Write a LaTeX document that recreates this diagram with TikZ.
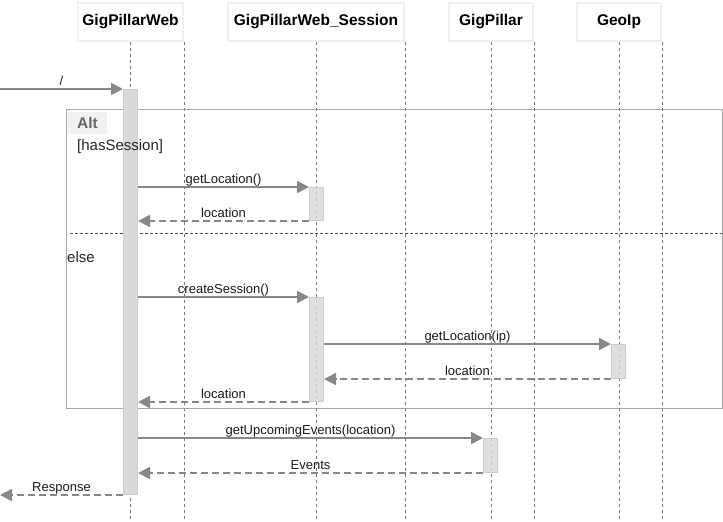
\documentclass[tikz,border=0pt]{standalone}
\usepackage{fontspec}
\setmainfont{Liberation Sans}
\usetikzlibrary{arrows.meta,positioning}

\begin{document}
\begin{tikzpicture}[x=1pt, y=-1pt,
		head/.style={draw=black!6, line width=2pt, minimum height=38pt, inner sep=0pt, font=\fontsize{15.5}{18}\selectfont\bfseries},
		lifeline/.style={black!55, line width=0.8pt, dash pattern=on 3pt off 3pt},
		actbar/.style={fill=black!15, fill opacity=0.85, draw=black!20, line width=1pt, minimum width=14pt, inner sep=0pt},
		msg/.style={black!47, line width=1.8pt, -{Triangle[length=12pt,width=12pt]}},
		reply/.style={msg, dash pattern=on 7pt off 4pt},
		lbl/.style={font=\fontsize{13}{15}\selectfont, anchor=base, yshift=3.5pt, inner sep=0pt, text=black!90},
		note/.style={font=\fontsize{15}{18}\selectfont, anchor=west, inner sep=0pt, text=black!85}]
			%%%%% START %%%%%
			
			\useasboundingbox (0,0) rectangle (723,522);
			\coordinate (bottom) at (0,522);
			
			\node[head, minimum width=105pt] (web) at (130.5,22) {GigPillarWeb};
			\node[head, minimum width=176pt] (sess) at (316,22) {GigPillarWeb\_Session};
			\node[head, minimum width=84pt] (pillar) at (491,22) {GigPillar};
			\node[head, minimum width=84pt] (geo) at (619,22) {GeoIp};
			
			\foreach \n in {web,sess,pillar,geo}{
				\draw[lifeline] (\n.south) -- (\n.south |- bottom);
				\draw[lifeline] (\n.south east) -- (\n.south east |- bottom);
			}
			
			\draw[black!35, line width=1pt] (66,109) rectangle (722,408);
			\node[fill=black!5, minimum width=39pt, minimum height=22pt, inner sep=0pt, font=\fontsize{15.5}{18}\selectfont\bfseries, text=black!60] (alt) at (87.5,123) {Alt};
			\draw[black!70, line width=0.7pt, dash pattern=on 3pt off 2pt] (70,233) -- (722,233);
			
			\node[actbar, fill opacity=1, minimum height=405pt] (webact) at (130.5,292) {};
			\node[actbar, minimum height=33pt] (sact1) at (316.5,204) {};
			\node[actbar, minimum height=104pt] (sact2) at (316.5,349.5) {};
			\node[actbar, minimum height=34pt] (gact) at (618.5,361.5) {};
			\node[actbar, minimum height=34pt] (pact) at (490.5,455.5) {};
			
			\node[note] (guard) at (77,147) {[hasSession]};
			\node[note] (other) at (67,257) {else};
			
			\coordinate (client) at (0,89);
			\coordinate (caller) at (0,495);
			
			\draw[msg] (client) -- (webact.north west) node[lbl, midway] {/};
			\draw[msg] (webact.east |- sact1.north) -- (sact1.north west) node[lbl, midway] {getLocation()};
			\draw[reply] (sact1.south west) -- (webact.east |- sact1.south) node[lbl, midway] {location};
			\draw[msg] (webact.east |- sact2.north) -- (sact2.north west) node[lbl, midway] {createSession()};
			\draw[msg] (sact2.east |- gact.north) -- (gact.north west) node[lbl, midway] {getLocation(ip)};
			\draw[reply] (gact.south west) -- (sact2.east |- gact.south) node[lbl, midway] {location};
			\draw[reply] (sact2.south west) -- (webact.east |- sact2.south) node[lbl, midway] {location};
			\draw[msg] (webact.east |- pact.north) -- (pact.north west) node[lbl, midway] {getUpcomingEvents(location)};
			\draw[reply] (pact.south west) -- (webact.east |- pact.south) node[lbl, midway] {Events};
			\draw[reply] (webact.south west) -- (caller) node[lbl, midway] {Response};
			
			%%%%% END %%%%%
\end{tikzpicture}
\end{document}
